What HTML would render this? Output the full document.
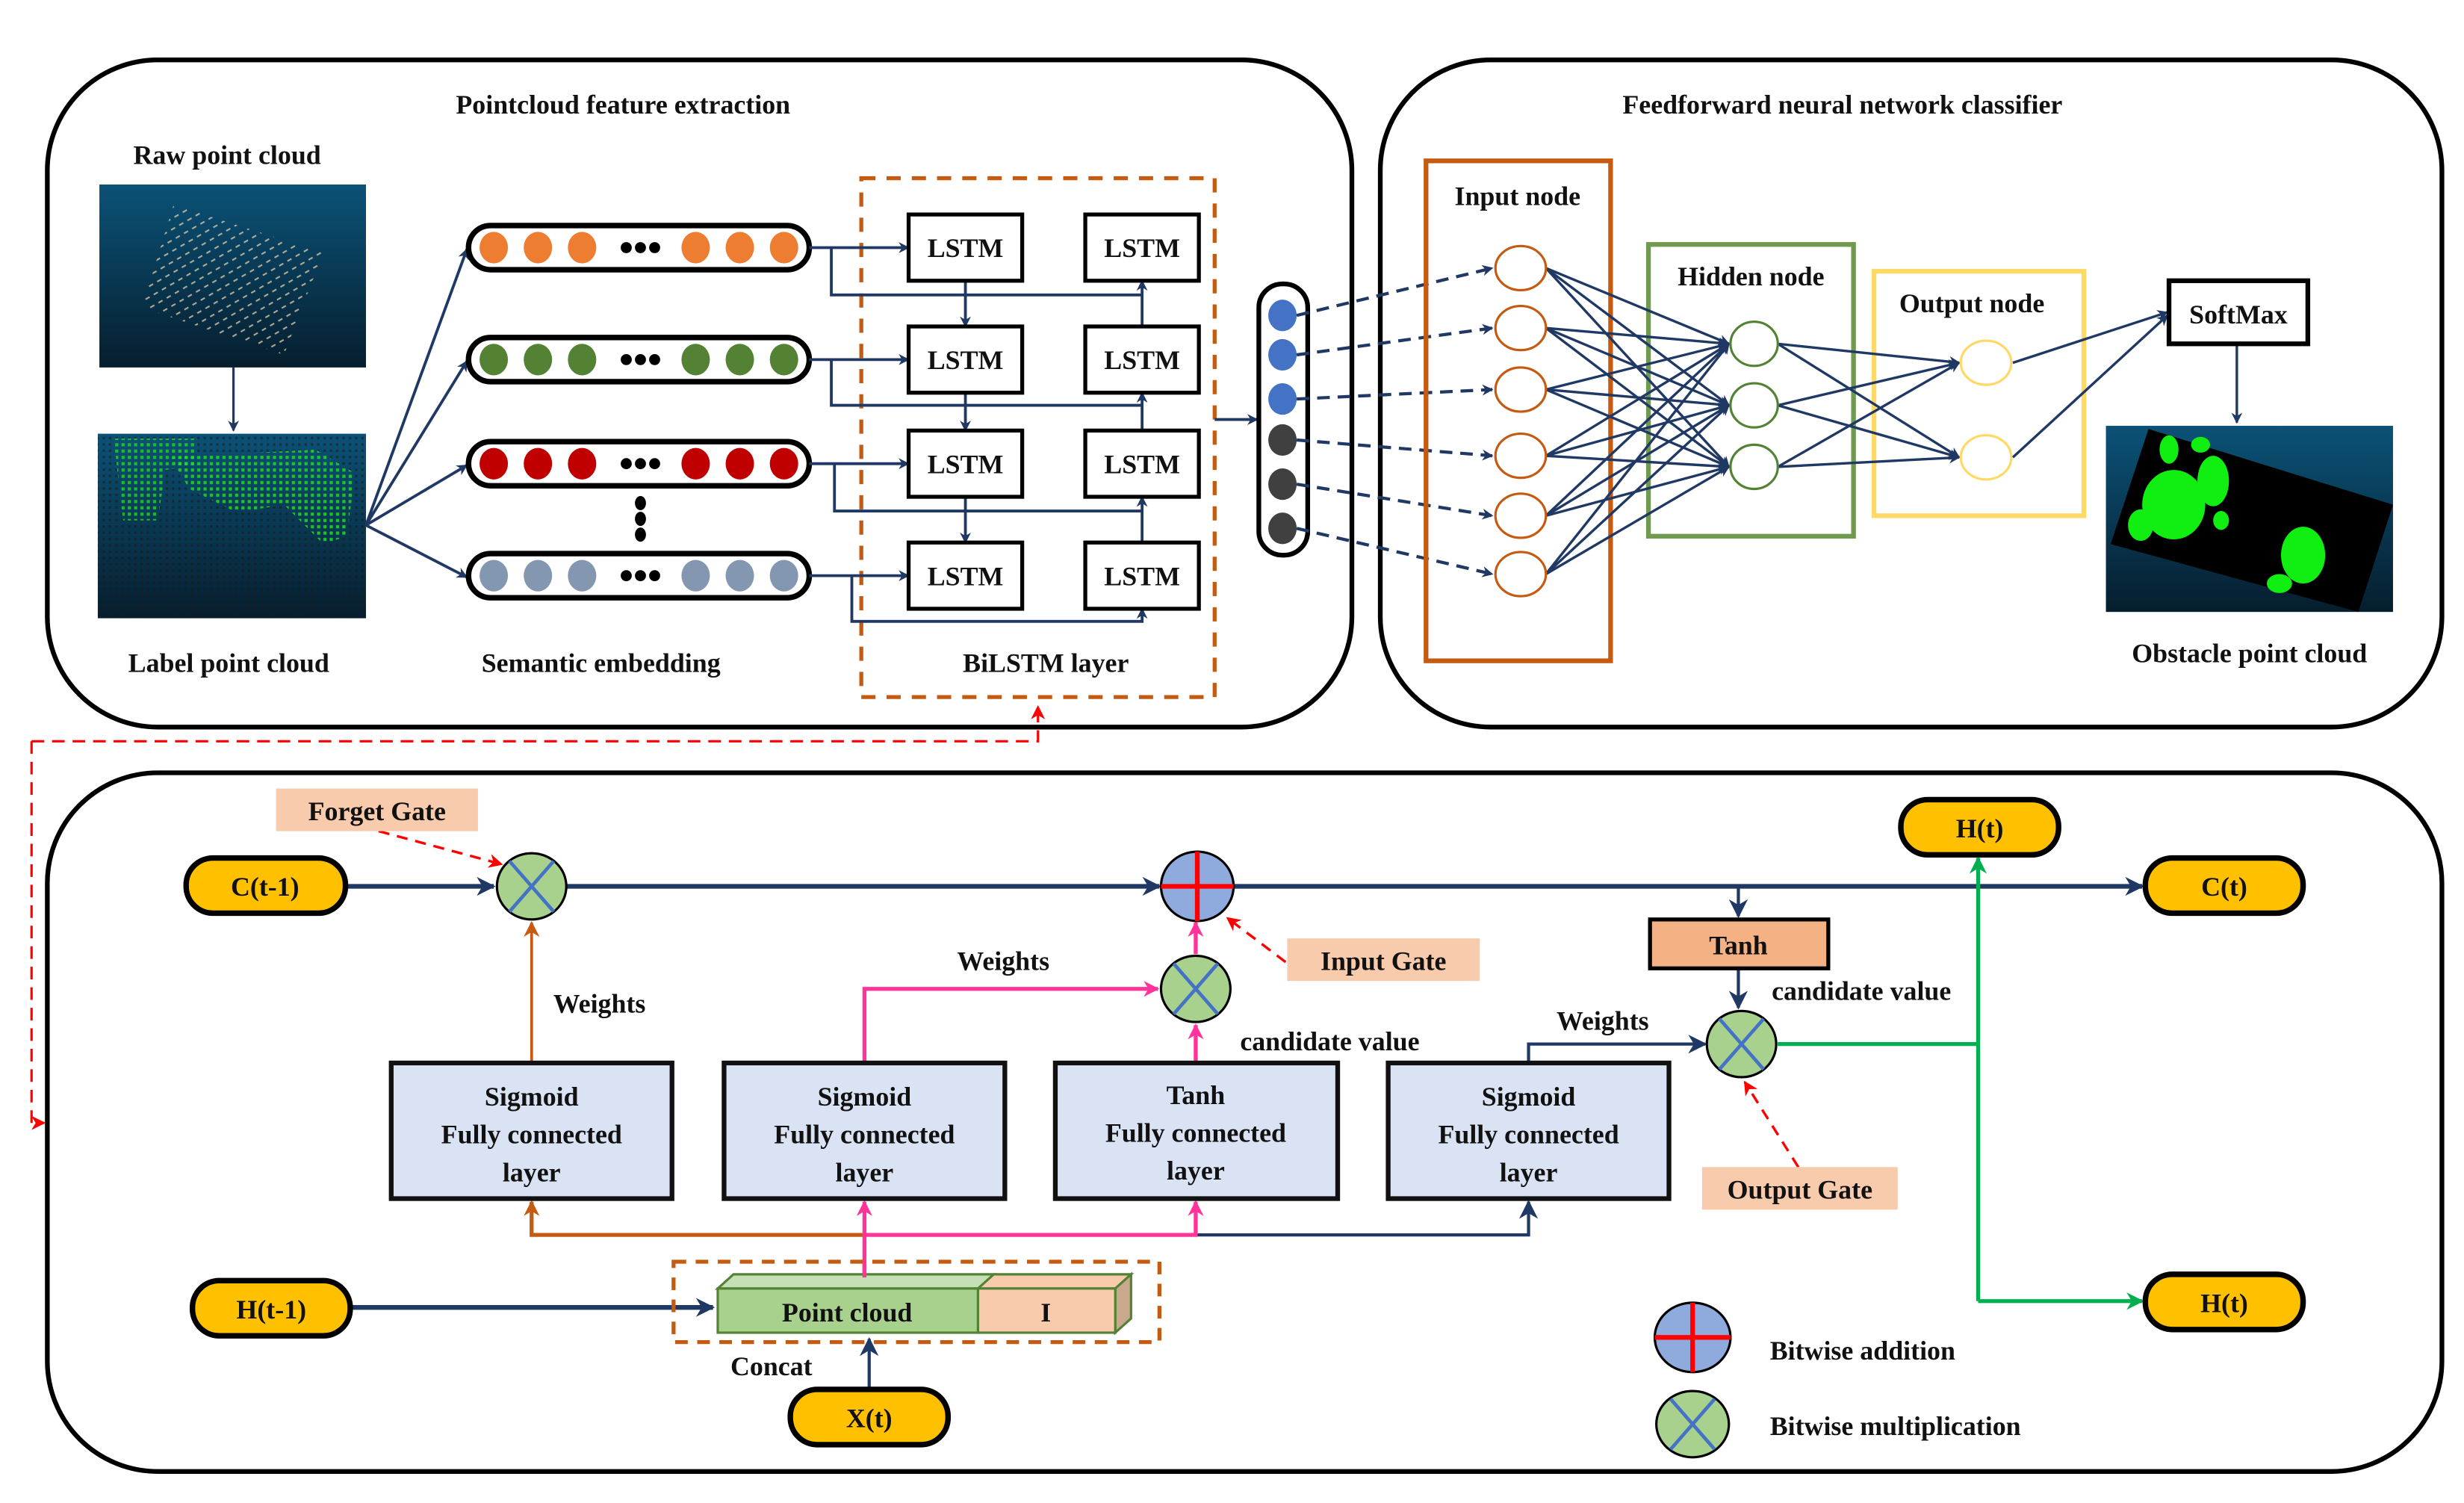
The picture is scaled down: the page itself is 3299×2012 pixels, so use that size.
<!DOCTYPE html>
<html><head><meta charset="utf-8"><style>
html,body{margin:0;padding:0;background:#fff}
svg{display:block}
text{font-family:"Liberation Serif",serif;font-weight:bold;fill:#111}
</style></head><body>
<svg width="3299" height="2012" viewBox="0 0 1562 953" preserveAspectRatio="none" xmlns="http://www.w3.org/2000/svg">
<defs>
<marker id="an" viewBox="0 0 10 10" refX="9" refY="5" markerWidth="7" markerHeight="7" orient="auto-start-reverse" markerUnits="userSpaceOnUse"><path d="M0,0 L10,5 L0,10 L3,5z" fill="#1f3864"/></marker>
<marker id="anb" viewBox="0 0 10 10" refX="9" refY="5" markerWidth="12" markerHeight="12" orient="auto" markerUnits="userSpaceOnUse"><path d="M0,0 L10,5 L0,10 L3,5z" fill="#1f3864"/></marker>
<marker id="ar" viewBox="0 0 10 10" refX="9" refY="5" markerWidth="9" markerHeight="9" orient="auto" markerUnits="userSpaceOnUse"><path d="M0,0 L10,5 L0,10 L3,5z" fill="#f00"/></marker>
<marker id="ao" viewBox="0 0 10 10" refX="9" refY="5" markerWidth="10" markerHeight="10" orient="auto" markerUnits="userSpaceOnUse"><path d="M0,0 L10,5 L0,10 L3,5z" fill="#c55a11"/></marker>
<marker id="ap" viewBox="0 0 10 10" refX="9" refY="5" markerWidth="10" markerHeight="10" orient="auto" markerUnits="userSpaceOnUse"><path d="M0,0 L10,5 L0,10 L3,5z" fill="#ff3399"/></marker>
<marker id="ag" viewBox="0 0 10 10" refX="9" refY="5" markerWidth="11" markerHeight="11" orient="auto" markerUnits="userSpaceOnUse"><path d="M0,0 L10,5 L0,10 L3,5z" fill="#00b050"/></marker>
<linearGradient id="bg" x1="0" y1="0" x2="0" y2="1"><stop offset="0" stop-color="#0b5277"/><stop offset="1" stop-color="#061e2e"/></linearGradient>
<pattern id="gd" width="4" height="4" patternUnits="userSpaceOnUse"><rect width="4" height="4" fill="none"/><rect x="1" y="1" width="1.6" height="1.6" fill="#1a1a1a" opacity="0.55"/></pattern>
<pattern id="gg" width="4" height="4" patternUnits="userSpaceOnUse"><rect x="1" y="1" width="2" height="2" fill="#22dd22"/></pattern>
<pattern id="rw" width="6" height="6" patternUnits="userSpaceOnUse" patternTransform="rotate(60)"><rect x="0" y="0" width="1" height="3" fill="#d8c8a8" opacity="0.8"/></pattern>
</defs>

<!-- panels -->
<rect x="30" y="38" width="827" height="423" rx="70" fill="none" stroke="#000" stroke-width="3"/>
<rect x="875" y="38" width="673" height="423" rx="70" fill="none" stroke="#000" stroke-width="3"/>
<rect x="30" y="490" width="1518" height="443" rx="70" fill="none" stroke="#000" stroke-width="3"/>

<text x="395" y="72" font-size="17" text-anchor="middle">Pointcloud feature extraction</text>
<text x="1168" y="72" font-size="17" text-anchor="middle">Feedforward neural network classifier</text>

<!-- raw point cloud -->
<text x="144" y="104" font-size="17" text-anchor="middle">Raw point cloud</text>
<rect x="63" y="117" width="169" height="116" fill="url(#bg)"/>
<polygon points="110,130 205,160 180,225 90,195" fill="url(#rw)"/>
<line x1="148" y1="233" x2="148" y2="273" stroke="#1f3864" stroke-width="1.5" marker-end="url(#an)"/>
<rect x="62" y="275" width="170" height="117" fill="url(#bg)"/>
<rect x="62" y="275" width="170" height="117" fill="url(#gd)"/>
<path d="M72,278 L125,278 L125,295 L105,298 L100,330 L78,330 Z" fill="url(#gg)" opacity="0.8"/>
<path d="M108,290 L200,285 L225,300 L220,340 L205,345 L180,320 L150,325 L120,310 Z" fill="url(#gg)" opacity="0.85"/>
<text x="145" y="426" font-size="17" text-anchor="middle">Label point cloud</text>

<!-- lines to embeddings -->
<g stroke="#1f3864" stroke-width="1.8" fill="none" marker-end="url(#an)">
<line x1="232" y1="333" x2="296" y2="158"/>
<line x1="232" y1="333" x2="296" y2="229"/>
<line x1="232" y1="333" x2="296" y2="295"/>
<line x1="232" y1="333" x2="296" y2="366"/>
</g>

<!-- embeddings -->
<g stroke="#000" stroke-width="3.5" fill="#fff">
<rect x="297" y="143" width="216" height="28" rx="14"/>
<rect x="297" y="214" width="216" height="28" rx="14"/>
<rect x="297" y="280" width="216" height="28" rx="14"/>
<rect x="297" y="351" width="216" height="28" rx="14"/>
</g>
<g fill="#ed7d31"><ellipse cx="313" cy="157" rx="9" ry="10"/><ellipse cx="341" cy="157" rx="9" ry="10"/><ellipse cx="369" cy="157" rx="9" ry="10"/><ellipse cx="441" cy="157" rx="9" ry="10"/><ellipse cx="469" cy="157" rx="9" ry="10"/><ellipse cx="497" cy="157" rx="9" ry="10"/></g>
<g fill="#548235"><ellipse cx="313" cy="228" rx="9" ry="10"/><ellipse cx="341" cy="228" rx="9" ry="10"/><ellipse cx="369" cy="228" rx="9" ry="10"/><ellipse cx="441" cy="228" rx="9" ry="10"/><ellipse cx="469" cy="228" rx="9" ry="10"/><ellipse cx="497" cy="228" rx="9" ry="10"/></g>
<g fill="#c00000"><ellipse cx="313" cy="294" rx="9" ry="10"/><ellipse cx="341" cy="294" rx="9" ry="10"/><ellipse cx="369" cy="294" rx="9" ry="10"/><ellipse cx="441" cy="294" rx="9" ry="10"/><ellipse cx="469" cy="294" rx="9" ry="10"/><ellipse cx="497" cy="294" rx="9" ry="10"/></g>
<g fill="#8497b0"><ellipse cx="313" cy="365" rx="9" ry="10"/><ellipse cx="341" cy="365" rx="9" ry="10"/><ellipse cx="369" cy="365" rx="9" ry="10"/><ellipse cx="441" cy="365" rx="9" ry="10"/><ellipse cx="469" cy="365" rx="9" ry="10"/><ellipse cx="497" cy="365" rx="9" ry="10"/></g>
<g fill="#000">
<circle cx="397" cy="157" r="3.5"/><circle cx="406" cy="157" r="3.5"/><circle cx="415" cy="157" r="3.5"/>
<circle cx="397" cy="228" r="3.5"/><circle cx="406" cy="228" r="3.5"/><circle cx="415" cy="228" r="3.5"/>
<circle cx="397" cy="294" r="3.5"/><circle cx="406" cy="294" r="3.5"/><circle cx="415" cy="294" r="3.5"/>
<circle cx="397" cy="365" r="3.5"/><circle cx="406" cy="365" r="3.5"/><circle cx="415" cy="365" r="3.5"/>
<ellipse cx="406" cy="319" rx="3.5" ry="4.5"/><ellipse cx="406" cy="329" rx="3.5" ry="4.5"/><ellipse cx="406" cy="339" rx="3.5" ry="4.5"/>
</g>
<text x="381" y="426" font-size="17" text-anchor="middle">Semantic embedding</text>

<!-- BiLSTM -->
<rect x="546" y="113" width="224" height="329" fill="none" stroke="#c55a11" stroke-width="2.5" stroke-dasharray="9,7"/>
<g stroke="#1f3864" stroke-width="1.8" fill="none">
<line x1="513" y1="157" x2="576" y2="157" marker-end="url(#an)"/>
<line x1="513" y1="228" x2="576" y2="228" marker-end="url(#an)"/>
<line x1="513" y1="294" x2="576" y2="294" marker-end="url(#an)"/>
<line x1="513" y1="365" x2="576" y2="365" marker-end="url(#an)"/>
<polyline points="527,157 527,187 724,187 724,178" marker-end="url(#an)"/>
<polyline points="527,228 527,257 724,257 724,249" marker-end="url(#an)"/>
<polyline points="529,294 529,324 724,324 724,315" marker-end="url(#an)"/>
<polyline points="540,365 540,394 724,394 724,386" marker-end="url(#an)"/>
<line x1="612" y1="178" x2="612" y2="207" marker-end="url(#an)"/>
<line x1="612" y1="249" x2="612" y2="273" marker-end="url(#an)"/>
<line x1="612" y1="315" x2="612" y2="344" marker-end="url(#an)"/>
<line x1="724" y1="207" x2="724" y2="187"/>
<line x1="724" y1="273" x2="724" y2="257"/>
<line x1="724" y1="344" x2="724" y2="324"/>
<line x1="770" y1="266" x2="797" y2="266" marker-end="url(#an)"/>
</g>
<g stroke="#000" stroke-width="2.5" fill="#fff">
<rect x="576" y="136" width="72" height="42"/><rect x="688" y="136" width="72" height="42"/>
<rect x="576" y="207" width="72" height="42"/><rect x="688" y="207" width="72" height="42"/>
<rect x="576" y="273" width="72" height="42"/><rect x="688" y="273" width="72" height="42"/>
<rect x="576" y="344" width="72" height="42"/><rect x="688" y="344" width="72" height="42"/>
</g>
<g font-size="17" text-anchor="middle">
<text x="612" y="163">LSTM</text><text x="724" y="163">LSTM</text>
<text x="612" y="234">LSTM</text><text x="724" y="234">LSTM</text>
<text x="612" y="300">LSTM</text><text x="724" y="300">LSTM</text>
<text x="612" y="371">LSTM</text><text x="724" y="371">LSTM</text>
</g>
<text x="663" y="426" font-size="17" text-anchor="middle">BiLSTM layer</text>

<!-- output vector -->
<rect x="798" y="180" width="31" height="172" rx="15" fill="#fff" stroke="#000" stroke-width="3"/>
<g fill="#4472c4"><ellipse cx="813" cy="200" rx="9" ry="10"/><ellipse cx="813" cy="225" rx="9" ry="10"/><ellipse cx="813" cy="253" rx="9" ry="10"/></g>
<g fill="#404040"><ellipse cx="813" cy="279" rx="9" ry="10"/><ellipse cx="813" cy="307" rx="9" ry="10"/><ellipse cx="813" cy="335" rx="9" ry="10"/></g>
<g stroke="#1f3864" stroke-width="2" stroke-dasharray="8,5" fill="none" marker-end="url(#an)">
<line x1="822" y1="200" x2="946" y2="170"/>
<line x1="822" y1="225" x2="946" y2="208"/>
<line x1="822" y1="253" x2="946" y2="247"/>
<line x1="822" y1="279" x2="946" y2="289"/>
<line x1="822" y1="307" x2="946" y2="327"/>
<line x1="822" y1="335" x2="946" y2="364"/>
</g>

<!-- FFNN -->
<rect x="904" y="102" width="117" height="317" fill="none" stroke="#c55a11" stroke-width="3"/>
<rect x="1045" y="155" width="130" height="185" fill="none" stroke="#6f9a50" stroke-width="3"/>
<rect x="1188" y="172" width="133" height="155" fill="none" stroke="#ffd966" stroke-width="3"/>
<text x="962" y="130" font-size="17" text-anchor="middle">Input node</text>
<text x="1110" y="181" font-size="17" text-anchor="middle">Hidden node</text>
<text x="1250" y="198" font-size="17" text-anchor="middle">Output node</text>
<g stroke="#1f3864" stroke-width="1.6" fill="none" marker-end="url(#an)">
<line x1="980" y1="170" x2="1096" y2="218"/><line x1="980" y1="170" x2="1096" y2="257"/><line x1="980" y1="170" x2="1096" y2="296"/>
<line x1="980" y1="208" x2="1096" y2="218"/><line x1="980" y1="208" x2="1096" y2="257"/><line x1="980" y1="208" x2="1096" y2="296"/>
<line x1="980" y1="247" x2="1096" y2="218"/><line x1="980" y1="247" x2="1096" y2="257"/><line x1="980" y1="247" x2="1096" y2="296"/>
<line x1="980" y1="289" x2="1096" y2="218"/><line x1="980" y1="289" x2="1096" y2="257"/><line x1="980" y1="289" x2="1096" y2="296"/>
<line x1="980" y1="327" x2="1096" y2="218"/><line x1="980" y1="327" x2="1096" y2="257"/><line x1="980" y1="327" x2="1096" y2="296"/>
<line x1="980" y1="364" x2="1096" y2="218"/><line x1="980" y1="364" x2="1096" y2="257"/><line x1="980" y1="364" x2="1096" y2="296"/>
<line x1="1127" y1="218" x2="1242" y2="230"/><line x1="1127" y1="218" x2="1242" y2="290"/>
<line x1="1127" y1="257" x2="1242" y2="230"/><line x1="1127" y1="257" x2="1242" y2="290"/>
<line x1="1127" y1="296" x2="1242" y2="230"/><line x1="1127" y1="296" x2="1242" y2="290"/>
<line x1="1276" y1="230" x2="1374" y2="198"/><line x1="1276" y1="290" x2="1374" y2="200"/>
<line x1="1418" y1="218" x2="1418" y2="268"/>
</g>
<g fill="#fff" stroke="#c55a11" stroke-width="1.5">
<ellipse cx="964" cy="170" rx="16" ry="14"/><ellipse cx="964" cy="208" rx="16" ry="14"/><ellipse cx="964" cy="247" rx="16" ry="14"/>
<ellipse cx="964" cy="289" rx="16" ry="14"/><ellipse cx="964" cy="327" rx="16" ry="14"/><ellipse cx="964" cy="364" rx="16" ry="14"/>
</g>
<g fill="#fff" stroke="#548235" stroke-width="1.5">
<ellipse cx="1112" cy="218" rx="15" ry="14"/><ellipse cx="1112" cy="257" rx="15" ry="14"/><ellipse cx="1112" cy="296" rx="15" ry="14"/>
</g>
<g fill="#fff" stroke="#ffd966" stroke-width="1.5">
<ellipse cx="1259" cy="230" rx="16" ry="14"/><ellipse cx="1259" cy="290" rx="16" ry="14"/>
</g>
<rect x="1375" y="178" width="88" height="40" fill="#fff" stroke="#000" stroke-width="3"/>
<text x="1419" y="205" font-size="17" text-anchor="middle">SoftMax</text>
<rect x="1335" y="270" width="182" height="118" fill="url(#bg)"/>
<polygon points="1362,272 1517,320 1495,388 1338,345" fill="#000"/>
<g fill="#11ee11">
<ellipse cx="1378" cy="320" rx="20" ry="22"/><ellipse cx="1403" cy="305" rx="10" ry="16"/><ellipse cx="1375" cy="285" rx="6" ry="9"/>
<ellipse cx="1395" cy="282" rx="6" ry="5"/><ellipse cx="1408" cy="330" rx="5" ry="6"/><ellipse cx="1460" cy="352" rx="14" ry="18"/>
<ellipse cx="1445" cy="370" rx="8" ry="6"/><ellipse cx="1357" cy="333" rx="8" ry="10"/>
</g>
<text x="1426" y="420" font-size="17" text-anchor="middle">Obstacle point cloud</text>

<!-- red dashed link -->
<polyline points="20,470 658,470 658,448" fill="none" stroke="#f00" stroke-width="1.5" stroke-dasharray="8,5" marker-end="url(#ar)"/>
<polyline points="20,470 20,712 28,712" fill="none" stroke="#f00" stroke-width="1.5" stroke-dasharray="8,5" marker-end="url(#ar)"/>

<!-- bottom LSTM cell -->
<g stroke="#1f3864" stroke-width="3" fill="none">
<line x1="219" y1="562" x2="313" y2="562" marker-end="url(#anb)"/>
<line x1="359" y1="562" x2="735" y2="562" marker-end="url(#anb)"/>
<line x1="782" y1="562" x2="1358" y2="562" marker-end="url(#anb)"/>
<line x1="222" y1="829" x2="452" y2="829" marker-end="url(#anb)"/>
</g>
<g stroke="#1f3864" stroke-width="2" fill="none">
<line x1="1102" y1="562" x2="1102" y2="581" marker-end="url(#anb)"/>
<line x1="1102" y1="614" x2="1102" y2="639" marker-end="url(#anb)"/>
<polyline points="969,674 969,662 1081,662" marker-end="url(#anb)"/>
<polyline points="758,783 969,783 969,762" marker-end="url(#anb)"/>
<line x1="551" y1="881" x2="551" y2="849" marker-end="url(#anb)"/>
</g>
<polyline points="548,783 337,783 337,762" fill="none" stroke="#c55a11" stroke-width="2.5" marker-end="url(#ao)"/>
<line x1="337" y1="674" x2="337" y2="585" stroke="#c55a11" stroke-width="1.8" marker-end="url(#ao)"/>
<g stroke="#ff3399" stroke-width="2.5" fill="none">
<line x1="548" y1="810" x2="548" y2="762" marker-end="url(#ap)"/>
<polyline points="548,783 758,783 758,762" marker-end="url(#ap)"/>
<polyline points="548,674 548,627 734,627" marker-end="url(#ap)"/>
<line x1="758" y1="674" x2="758" y2="650" marker-end="url(#ap)"/>
<line x1="758" y1="605" x2="758" y2="585" marker-end="url(#ap)"/>
</g>
<g stroke="#00b050" stroke-width="2.5" fill="none">
<line x1="1127" y1="662" x2="1254" y2="662"/>
<line x1="1254" y1="825" x2="1254" y2="544" marker-end="url(#ag)"/>
<line x1="1254" y1="825" x2="1358" y2="825" marker-end="url(#ag)"/>
</g>
<g stroke="#f00" stroke-width="1.6" stroke-dasharray="7,5" fill="none" marker-end="url(#ar)">
<line x1="240" y1="527" x2="318" y2="548"/>
<line x1="815" y1="610" x2="778" y2="582"/>
<line x1="1140" y1="740" x2="1106" y2="686"/>
</g>

<!-- gate labels -->
<g fill="#f8cbad">
<rect x="175" y="500" width="128" height="27"/><rect x="816" y="595" width="122" height="27"/><rect x="1079" y="740" width="124" height="27"/>
</g>
<text x="239" y="520" font-size="17" text-anchor="middle">Forget Gate</text>
<text x="877" y="615" font-size="17" text-anchor="middle">Input Gate</text>
<text x="1141" y="760" font-size="17" text-anchor="middle">Output Gate</text>

<!-- pills -->
<g fill="#ffc000" stroke="#000" stroke-width="3.5">
<rect x="118" y="544" width="101" height="35" rx="17"/>
<rect x="1360" y="544" width="100" height="35" rx="17"/>
<rect x="1205" y="507" width="100" height="35" rx="17"/>
<rect x="122" y="812" width="100" height="35" rx="17"/>
<rect x="1360" y="808" width="100" height="35" rx="17"/>
<rect x="501" y="881" width="100" height="35" rx="17"/>
</g>
<g font-size="17" text-anchor="middle">
<text x="168" y="568">C(t-1)</text><text x="1410" y="568">C(t)</text><text x="1255" y="531">H(t)</text>
<text x="172" y="836">H(t-1)</text><text x="1410" y="832">H(t)</text><text x="551" y="905">X(t)</text>
</g>

<!-- operator circles -->
<g stroke="#000" stroke-width="1.5">
<ellipse cx="337" cy="562" rx="22" ry="21" fill="#a9d18e"/>
<ellipse cx="758" cy="627" rx="22" ry="21" fill="#a9d18e"/>
<ellipse cx="1104" cy="662" rx="22" ry="21" fill="#a9d18e"/>
<ellipse cx="1073" cy="903" rx="23" ry="21" fill="#a9d18e"/>
<ellipse cx="759" cy="562" rx="23" ry="22" fill="#8faadc"/>
<ellipse cx="1073" cy="848" rx="24" ry="22" fill="#8faadc"/>
</g>
<g stroke="#4472c4" stroke-width="2.2">
<line x1="323" y1="546" x2="351" y2="578"/><line x1="351" y1="546" x2="323" y2="578"/>
<line x1="744" y1="611" x2="772" y2="643"/><line x1="772" y1="611" x2="744" y2="643"/>
<line x1="1090" y1="646" x2="1118" y2="678"/><line x1="1118" y1="646" x2="1090" y2="678"/>
<line x1="1059" y1="887" x2="1087" y2="919"/><line x1="1087" y1="887" x2="1059" y2="919"/>
</g>
<g stroke="#f00" stroke-width="3">
<line x1="759" y1="540" x2="759" y2="584"/><line x1="736" y1="562" x2="782" y2="562"/>
<line x1="1073" y1="826" x2="1073" y2="870"/><line x1="1049" y1="848" x2="1097" y2="848"/>
</g>
<text x="1122" y="862" font-size="17">Bitwise addition</text>
<text x="1122" y="910" font-size="17">Bitwise multiplication</text>

<!-- FC boxes -->
<g fill="#dae3f3" stroke="#111" stroke-width="3">
<rect x="248" y="674" width="178" height="86"/><rect x="459" y="674" width="178" height="86"/>
<rect x="669" y="674" width="179" height="86"/><rect x="880" y="674" width="178" height="86"/>
</g>
<g font-size="17" text-anchor="middle">
<text x="337" y="701">Sigmoid</text><text x="337" y="725">Fully connected</text><text x="337" y="749">layer</text>
<text x="548" y="701">Sigmoid</text><text x="548" y="725">Fully connected</text><text x="548" y="749">layer</text>
<text x="758" y="700">Tanh</text><text x="758" y="724">Fully connected</text><text x="758" y="748">layer</text>
<text x="969" y="701">Sigmoid</text><text x="969" y="725">Fully connected</text><text x="969" y="749">layer</text>
</g>
<text x="380" y="642" font-size="17" text-anchor="middle">Weights</text>
<text x="636" y="615" font-size="17" text-anchor="middle">Weights</text>
<text x="1016" y="653" font-size="17" text-anchor="middle">Weights</text>
<text x="843" y="666" font-size="17" text-anchor="middle">candidate value</text>
<text x="1180" y="634" font-size="17" text-anchor="middle">candidate value</text>

<rect x="1046" y="583" width="113" height="31" fill="#f4b183" stroke="#000" stroke-width="2.5"/>
<text x="1102" y="605" font-size="17" text-anchor="middle">Tanh</text>

<!-- concat -->
<rect x="427" y="800" width="308" height="51" fill="none" stroke="#c55a11" stroke-width="2.5" stroke-dasharray="8,6"/>
<polygon points="455,817 465,808 630,808 620,817" fill="#c5e0b4" stroke="#548235" stroke-width="1.5"/>
<polygon points="620,817 630,808 717,808 707,817" fill="#f8cbad" stroke="#548235" stroke-width="1.5"/>
<polygon points="707,817 717,808 717,836 707,845" fill="#c9a98c" stroke="#548235" stroke-width="1.5"/>
<rect x="455" y="817" width="165" height="28" fill="#a9d18e" stroke="#548235" stroke-width="1.5"/>
<rect x="620" y="817" width="87" height="28" fill="#f8cbad" stroke="#548235" stroke-width="1.5"/>
<line x1="548" y1="810" x2="548" y2="800" stroke="#ff3399" stroke-width="2.5"/>
<text x="537" y="838" font-size="17" text-anchor="middle">Point cloud</text>
<text x="663" y="838" font-size="17" text-anchor="middle">I</text>
<text x="489" y="872" font-size="17" text-anchor="middle">Concat</text>
</svg>
</body></html>
